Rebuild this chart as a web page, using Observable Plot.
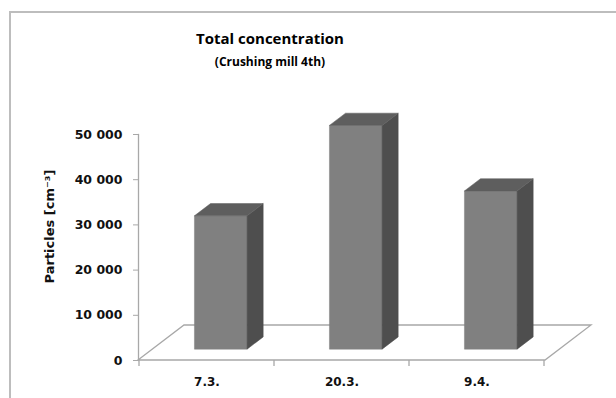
<!DOCTYPE html>
<html><head><meta charset="utf-8">
<script src="https://cdn.jsdelivr.net/npm/d3@7"></script>
<script src="https://cdn.jsdelivr.net/npm/@observablehq/plot@0.6"></script>
<style>
body{margin:0;background:#fff;}
#wrap{position:relative;width:616px;height:398px;overflow:hidden;font-family:"Open Sans",sans-serif;color:#000;}
#frame{position:absolute;left:9px;top:11px;width:700px;height:500px;border:2px solid #bdbdbd;box-sizing:border-box;}
#title{position:absolute;left:0;width:540px;top:29px;text-align:center;font-weight:bold;font-size:15px;line-height:18px;}
#subtitle{position:absolute;left:0;width:540px;top:54px;text-align:center;font-weight:bold;font-size:12px;line-height:16px;}
#chart{position:absolute;left:0;top:0;}
</style>
</head><body>
<div id="wrap">
  <div id="frame"></div>
  <div id="title">Total concentration</div>
  <div id="subtitle">(Crushing mill 4th)</div>
  <div id="chart"></div>
</div>
<script>
const dates = ["7.3.", "20.3.", "9.4."];
const particles = [29500, 49500, 35000];
const yTicks = [0, 10000, 20000, 30000, 40000, 50000];
const yLabel = "Particles [cm\u207B\u00B3]";

const data = dates.map((d, i) => ({date: d, value: particles[i]}));

// 3D look (pixel offsets)
const depthDx = 46, depthDy = -35;
const barFront = 0.31, barBack = 0.66, barPad = 0.305;
const gridColor = "#a8a8a8";
const axisFont = "DejaVu Sans, sans-serif";

const fmt = d => d3.format(",")(d).replace(/,/g, " ");

function poly(g, pts, fill) {
  g.append("path")
    .attr("d", "M" + pts.map(p => p.join(",")).join("L") + "Z")
    .attr("fill", fill)
    .attr("stroke", fill)
    .attr("stroke-width", 0.5);
}

function floorRender(index, scales) {
  const x = scales.x, y = scales.y;
  const [xa, xb] = x.range();
  const y0 = y(0);
  const g = d3.create("svg:g").attr("fill", "none").attr("stroke", gridColor).attr("stroke-width", 1.3);
  g.append("path").attr("d", `M${xa},${y0}L${xa + depthDx},${y0 + depthDy}L${xb + depthDx},${y0 + depthDy}L${xb},${y0}Z`);
  const bw = x.bandwidth();
  const edges = dates.map(d => x(d)).concat([x(dates[dates.length - 1]) + bw]);
  edges.forEach(e => g.append("path").attr("d", `M${e},${y0}L${e},${y0 + 6}`));
  return g.node();
}

function barsRender(index, scales) {
  const x = scales.x, y = scales.y, bw = x.bandwidth();
  const g = d3.create("svg:g");
  const fx = depthDx * barFront, fy = depthDy * barFront;
  const bx = depthDx * barBack, by = depthDy * barBack;
  for (const i of index) {
    const d = data[i];
    const x0 = x(d.date) + bw * barPad, x1 = x(d.date) + bw * (1 - barPad);
    const y0 = y(0), yt = y(d.value);
    poly(g, [[x0 + fx, y0 + fy], [x1 + fx, y0 + fy], [x1 + fx, yt + fy], [x0 + fx, yt + fy]], "#808080");
    poly(g, [[x1 + fx, y0 + fy], [x1 + bx, y0 + by], [x1 + bx, yt + by], [x1 + fx, yt + fy]], "#4e4e4e");
    poly(g, [[x0 + fx, yt + fy], [x1 + fx, yt + fy], [x1 + bx, yt + by], [x0 + bx, yt + by]], "#5e5e5e");
  }
  return g.node();
}

const chart = Plot.plot({
  width: 616,
  height: 398,
  marginLeft: 138,
  marginRight: 71,
  marginTop: 134,
  marginBottom: 38,
  style: {fontFamily: axisFont, background: "transparent", overflow: "visible"},
  x: {type: "band", domain: dates, padding: 0, label: null},
  y: {domain: [0, 50000], label: null},
  marks: [
    Plot.ruleY([0], {render: floorRender}),
    Plot.frame({anchor: "left", stroke: gridColor, strokeWidth: 1.3}),
    Plot.axisY({ticks: yTicks, tickFormat: fmt, tickSize: 5, tickPadding: 11, stroke: gridColor, fill: "#111",
      fontSize: 12.5, fontWeight: "bold", label: null}),
    Plot.axisX({tickSize: 0, tickPadding: 17, fontSize: 12, fontWeight: "bold", fill: "#111", label: null}),
    Plot.barY(data, {x: "date", y: "value", render: barsRender}),
    Plot.text([yLabel], {frameAnchor: "left", textAnchor: "middle", rotate: -90, dx: -89, dy: -21, fontSize: 13, fontWeight: "bold", fill: "#111"})
  ]
});
document.getElementById("chart").appendChild(chart);
</script>
</body></html>
